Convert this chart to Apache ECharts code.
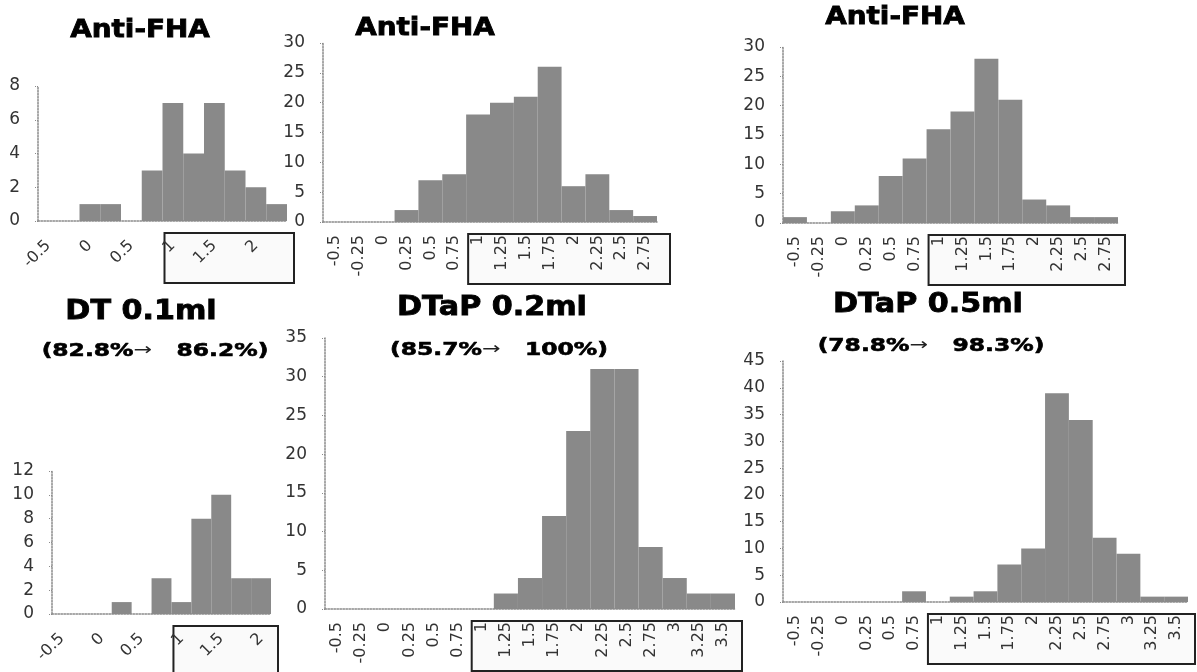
<!DOCTYPE html>
<html>
<head>
<meta charset="utf-8">
<script src="https://cdn.jsdelivr.net/npm/echarts@6/dist/echarts.min.js"></script>
<style>
    html, body { margin: 0; padding: 0; background: #fff; }
    #chartId { width: 1197px; height: 672px; }
</style>
</head>
<body>
<div id="chartId"></div>
<script>
// x categories (log titer bins)
const cats11 = ['-0.5','-0.25','0','0.25','0.5','0.75','1','1.25','1.5','1.75','2'];
const cats12 = ['-0.5','-0.25','0','0.25','0.5','0.75','1','1.25','1.5','1.75','2','2.25'];
const cats14 = ['-0.5','-0.25','0','0.25','0.5','0.75','1','1.25','1.5','1.75','2','2.25','2.5','2.75'];
const cats17 = ['-0.5','-0.25','0','0.25','0.5','0.75','1','1.25','1.5','1.75','2','2.25','2.5','2.75','3','3.25','3.5'];

// counts per bin, top row = Anti-FHA, bottom row = diphtheria
const fhaDT01   = [0,0,1,1,0,3,7,4,7,3,2,1];
const fhaDTaP02 = [0,0,0,2,7,8,18,20,21,26,6,8,2,1];
const fhaDTaP05 = [1,0,2,3,8,11,16,19,28,21,4,3,1,1];
const dtDT01    = [0,0,0,1,0,3,1,8,10,3,3];
const dtDTaP02  = [0,0,0,0,0,0,0,2,4,12,23,31,31,8,4,2,2];
const dtDTaP05  = [0,0,0,0,0,2,0,1,2,7,10,39,34,12,9,1,1];

// y axis max / step for each panel
const yMax  = [8, 30, 30, 12, 35, 45];
const yStep = [2, 5, 5, 2, 5, 5];

// texts
const topTitle = 'Anti-FHA';
const groupTitles = ['DT 0.1ml', 'DTaP 0.2ml', 'DTaP 0.5ml'];
const rateFrom = ['82.8%', '85.7%', '78.8%'];
const rateTo   = ['86.2%', '100%', '98.3%'];

const panelCats = [cats12, cats14, cats14, cats11, cats17, cats17];
const panelData = [fhaDT01, fhaDTaP02, fhaDTaP05, dtDT01, dtDTaP02, dtDTaP05];

// layout
const grids = [
    {left: 38,  top: 86,  width: 249, height: 135},
    {left: 323, top: 43,  width: 334, height: 179},
    {left: 783, top: 47,  width: 335, height: 176},
    {left: 52,  top: 471, width: 219, height: 143},
    {left: 325, top: 338, width: 410, height: 271},
    {left: 783, top: 361, width: 405, height: 241}
];
const labelRotate = [45, 90, 90, 45, 90, 90];
const labelFont = '"DejaVu Sans", sans-serif';

var chart = echarts.init(document.getElementById('chartId'));

let xAxes = [], yAxes = [], series = [];
for (let i = 0; i < 6; i++) {
    let diag = labelRotate[i] == 45;
    xAxes.push({
        type: 'category',
        gridIndex: i,
        data: panelCats[i],
        boundaryGap: true,
        axisLine: { lineStyle: { color: '#8a8a8a', type: 'dotted', width: 1.5 } },
        axisTick: { interval: 0, length: 5, lineStyle: { color: '#8a8a8a', type: 'dotted' } },
        axisLabel: {
            interval: diag ? 1 : 0,
            rotate: labelRotate[i],
            margin: diag ? 22 : 13,
            fontSize: 16,
            fontFamily: labelFont,
            color: '#333'
        },
        splitLine: { show: false }
    });
    yAxes.push({
        type: 'value',
        gridIndex: i,
        min: 0,
        max: yMax[i],
        interval: yStep[i],
        axisLine: { show: true, lineStyle: { color: '#8a8a8a', type: 'dotted', width: 1.5 } },
        axisTick: { show: true, length: 4, lineStyle: { color: '#8a8a8a', type: 'dotted' } },
        axisLabel: { margin: 18, fontSize: 17, fontFamily: labelFont, color: '#333' },
        splitLine: { show: false }
    });
    series.push({
        type: 'bar',
        xAxisIndex: i,
        yAxisIndex: i,
        data: panelData[i],
        barCategoryGap: '0%',
        barGap: '0%',
        itemStyle: { color: '#898989' },
        silent: true
    });
}

var option = {
    animation: false,
    backgroundColor: '#fff',
    grid: grids,
    xAxis: xAxes,
    yAxis: yAxes,
    series: series
};
chart.setOption(option);

// titles and the boxes drawn round the upper x labels
function titleText(text, x, y, size, sx) {
    return {
        type: 'text', x: x, y: y, scaleX: sx, z: 10,
        style: {
            text: text, fill: '#000', stroke: '#000', lineWidth: 0.8,
            font: 'bold ' + size + 'px "DejaVu Sans", sans-serif',
            align: 'center', verticalAlign: 'middle',
            textAlign: 'center', textVerticalAlign: 'middle'
        }
    };
}
function rateText(i, x, y) {
    return {
        type: 'text', x: x, y: y, scaleX: 1.3, z: 10,
        style: {
            text: '{b|(' + rateFrom[i] + '}{a|→}{b|   ' + rateTo[i] + ')}',
            align: 'center', verticalAlign: 'middle',
            textAlign: 'center', textVerticalAlign: 'middle',
            rich: {
                b: { font: 'bold 18px "DejaVu Sans", sans-serif', fill: '#000', stroke: '#000', lineWidth: 0.6 },
                a: { font: '17px "DejaVu Sans", sans-serif', fill: '#222' }
            }
        }
    };
}

let graphics = [
    titleText(topTitle, 140, 31, 24, 1.16),
    titleText(topTitle, 425, 29, 24, 1.16),
    titleText(topTitle, 895, 18, 24, 1.16),
    titleText(groupTitles[0], 141, 312, 26, 1.16),
    titleText(groupTitles[1], 492, 308, 26, 1.16),
    titleText(groupTitles[2], 928, 305, 26, 1.16),
    rateText(0, 155, 351),
    rateText(1, 499, 350),
    rateText(2, 931, 346)
];

for (let i = 0; i < 6; i++) {
    let g = grids[i];
    let band = g.width / panelCats[i].length;
    let cx = chart.convertToPixel({ xAxisIndex: i }, panelCats[i].indexOf('1'));
    let y0 = chart.convertToPixel({ yAxisIndex: i }, 0);
    let left = cx - band / 2 + 2;
    let right = g.left + g.width + (i == 1 ? 13 : 7);
    graphics.push({
        type: 'rect', z: -1,
        shape: { x: left, y: y0 + 12, width: right - left, height: 50 },
        style: { fill: 'rgba(0,0,0,0.02)', stroke: '#222', lineWidth: 2 }
    });
}

chart.setOption({ graphic: graphics });
</script>
</body>
</html>
